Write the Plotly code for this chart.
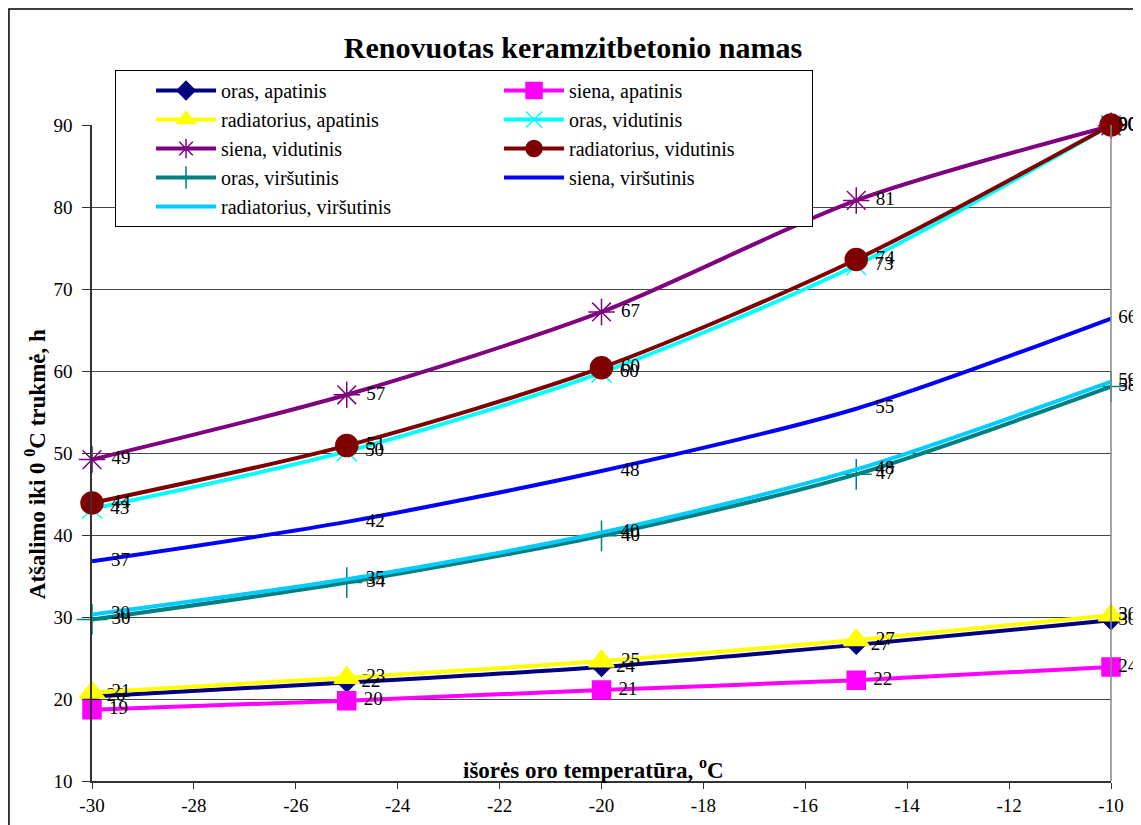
import plotly.graph_objects as go

# ---- data ----
temperatures = [-30, -25, -20, -15, -10]
oras_apatinis = [20.3, 22.0, 23.9, 26.6, 29.6]
siena_apatinis = [18.7, 19.8, 21.1, 22.3, 23.9]
radiatorius_apatinis = [20.8, 22.6, 24.6, 27.2, 30.2]
oras_vidutinis = [43.2, 50.2, 59.8, 72.9, 90.0]
siena_vidutinis = [49.2, 57.1, 67.2, 80.8, 89.9]
radiatorius_vidutinis = [43.9, 50.9, 60.4, 73.6, 90.0]
oras_virsutinis = [29.7, 34.2, 39.9, 47.4, 58.1]
siena_virsutinis = [36.8, 41.6, 47.8, 55.4, 66.4]
radiatorius_virsutinis = [30.3, 34.6, 40.3, 48.0, 58.7]

x_ticks = [-30, -28, -26, -24, -22, -20, -18, -16, -14, -12, -10]
y_ticks = [10, 20, 30, 40, 50, 60, 70, 80, 90]

title_text = "Renovuotas keramzitbetonio namas"
x_title = "išorės oro temperatūra, <sup>o</sup>C"
y_title = "Atšalimo iki 0 <sup>0</sup>C trukmė, h"

SERIF = "Liberation Serif"
NB = "\u00a0"

# name, values, colour, marker symbol, marker size (None = line only)
series = [
    ("oras, apatinis", oras_apatinis, "#000080", "diamond", 14),
    ("siena, apatinis", siena_apatinis, "#FF00FF", "square", 18),
    ("radiatorius, apatinis", radiatorius_apatinis, "#FFFF00", "triangle-up", 22),
    ("oras, vidutinis", oras_vidutinis, "#00FFFF", "x-thin-open", 20),
    ("siena, vidutinis", siena_vidutinis, "#800080", "asterisk-open", 22),
    ("radiatorius, vidutinis", radiatorius_vidutinis, "#800000", "circle", 22),
    ("oras, viršutinis", oras_virsutinis, "#008080", "cross-thin-open", 22),
    ("siena, viršutinis", siena_virsutinis, "#0000FF", None, None),
    ("radiatorius, viršutinis", radiatorius_virsutinis, "#00CCFF", None, None),
]

fig = go.Figure()
n = len(temperatures)
for name, vals, color, sym, size in series:
    lead = NB if sym else NB * 4
    templates = [lead + "%{y:.0f}"] * (n - 1) + [NB * 7 + "%{y:.0f}"]
    positions = ["middle right"] * (n - 1) + ["middle center"]
    kw = dict(
        x=temperatures, y=vals, name=name,
        line=dict(color=color, width=4, shape="spline", smoothing=0.8),
        texttemplate=templates,
        textposition=positions,
        textfont=dict(family=SERIF, size=19, color="black"),
        cliponaxis=False,
    )
    if sym:
        kw["mode"] = "lines+markers+text"
        kw["marker"] = dict(symbol=sym, size=size, color=color,
                            line=dict(color=color, width=1.5))
    else:
        kw["mode"] = "lines+text"
    fig.add_trace(go.Scatter(**kw))

fig.update_layout(
    width=1133, height=817,
    margin=dict(l=84, r=30, t=117, b=44, autoexpand=False),
    paper_bgcolor="white", plot_bgcolor="white",
    font=dict(family=SERIF, size=19, color="black"),
    title=dict(text="<b>" + title_text + "</b>", x=0.4987, xanchor="center",
               y=0.952, yanchor="middle",
               font=dict(family=SERIF, size=30, color="black")),
    showlegend=True,
    legend=dict(orientation="h", x=0.0226, xanchor="left", y=1.0838, yanchor="top",
                entrywidth=238, entrywidthmode="pixels", indentation=35,
                itemwidth=60, traceorder="normal",
                bordercolor="black", borderwidth=1, bgcolor="white",
                font=dict(family=SERIF, size=20, color="black")),
    xaxis=dict(range=[-30, -10], tickvals=x_ticks, ticktext=[str(t) for t in x_ticks],
               showgrid=False, zeroline=False, automargin=False,
               showline=True, linecolor="#333333", linewidth=1.5,
               ticks="outside", ticklen=6, tickcolor="#333333",
               tickfont=dict(family=SERIF, size=19)),
    yaxis=dict(range=[10, 90], tickvals=y_ticks, ticktext=[str(t) for t in y_ticks],
               showgrid=True, gridcolor="#444444", gridwidth=1, zeroline=False,
               automargin=False,
               showline=True, linecolor="#333333", linewidth=1.5,
               ticks="outside", ticklen=8, tickcolor="#333333",
               ticklabelstandoff=6,
               tickfont=dict(family=SERIF, size=19)),
    shapes=[
        # plot area right border
        dict(type="line", xref="paper", yref="paper", x0=1, x1=1, y0=0, y1=1,
             line=dict(color="#888888", width=1.5)),
        # outer chart frame
        dict(type="rect", xref="paper", yref="paper",
             x0=-0.0815, x1=1.05, y0=-0.2, y1=1.177,
             line=dict(color="black", width=1.5), fillcolor="rgba(0,0,0,0)",
             layer="below"),
    ],
    annotations=[
        dict(text="<b>" + x_title + "</b>", xref="paper", yref="paper",
             x=0.4926, y=0.0198, xanchor="center", yanchor="middle", showarrow=False,
             font=dict(family=SERIF, size=23, color="black")),
        dict(text="<b>" + y_title + "</b>", xref="paper", yref="paper",
             x=-0.0559, y=0.483, xanchor="center", yanchor="middle", showarrow=False,
             textangle=-90, font=dict(family=SERIF, size=23, color="black")),
    ],
)

fig.write_html("out.html")
